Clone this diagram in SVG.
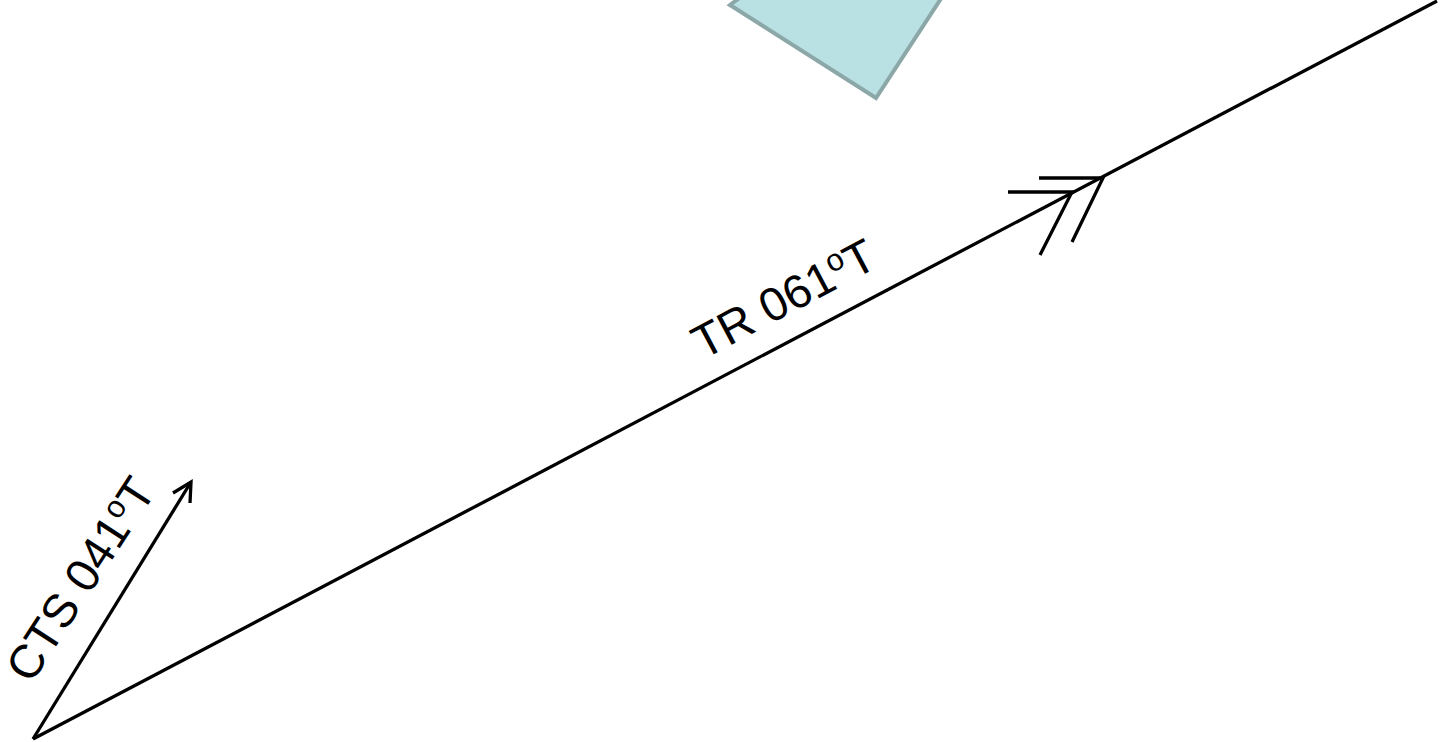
<svg xmlns="http://www.w3.org/2000/svg" width="1441" height="742" viewBox="0 0 1441 742">
<style>
.ln{stroke:#000;stroke-width:3.3;fill:none;stroke-linecap:butt}
.lbl{font-family:"Liberation Sans",Arial,sans-serif;font-size:47px;fill:#000}
.sup{font-size:31px}
</style>
<rect width="1441" height="742" fill="#fff"/>
<g id="landmark">
<polygon points="730,5 876,98 944,-6 790,-40" fill="#b9e0e3" stroke="#8ca7a8" stroke-width="4" stroke-linejoin="miter"/>
</g>
<g id="connectors">
<line class="ln" x1="33" y1="739" x2="1437" y2="1"/>
<line class="ln" x1="33" y1="739" x2="191" y2="482"/>
<polyline class="ln" points="173,493 191,482 190,503"/>
<polyline class="ln" points="1039,178 1103,178 1072,242"/>
<polyline class="ln" points="1008,192 1072,192 1040,255"/>
</g>
<g id="labels">
<text class="lbl" transform="translate(703,360) rotate(-28)">TR 061<tspan class="sup" dy="-16">o</tspan><tspan dy="16">T</tspan></text>
<text class="lbl" transform="translate(31,685) rotate(-57)">CTS 041<tspan class="sup" dy="-16">o</tspan><tspan dy="16">T</tspan></text>
</g>
</svg>
